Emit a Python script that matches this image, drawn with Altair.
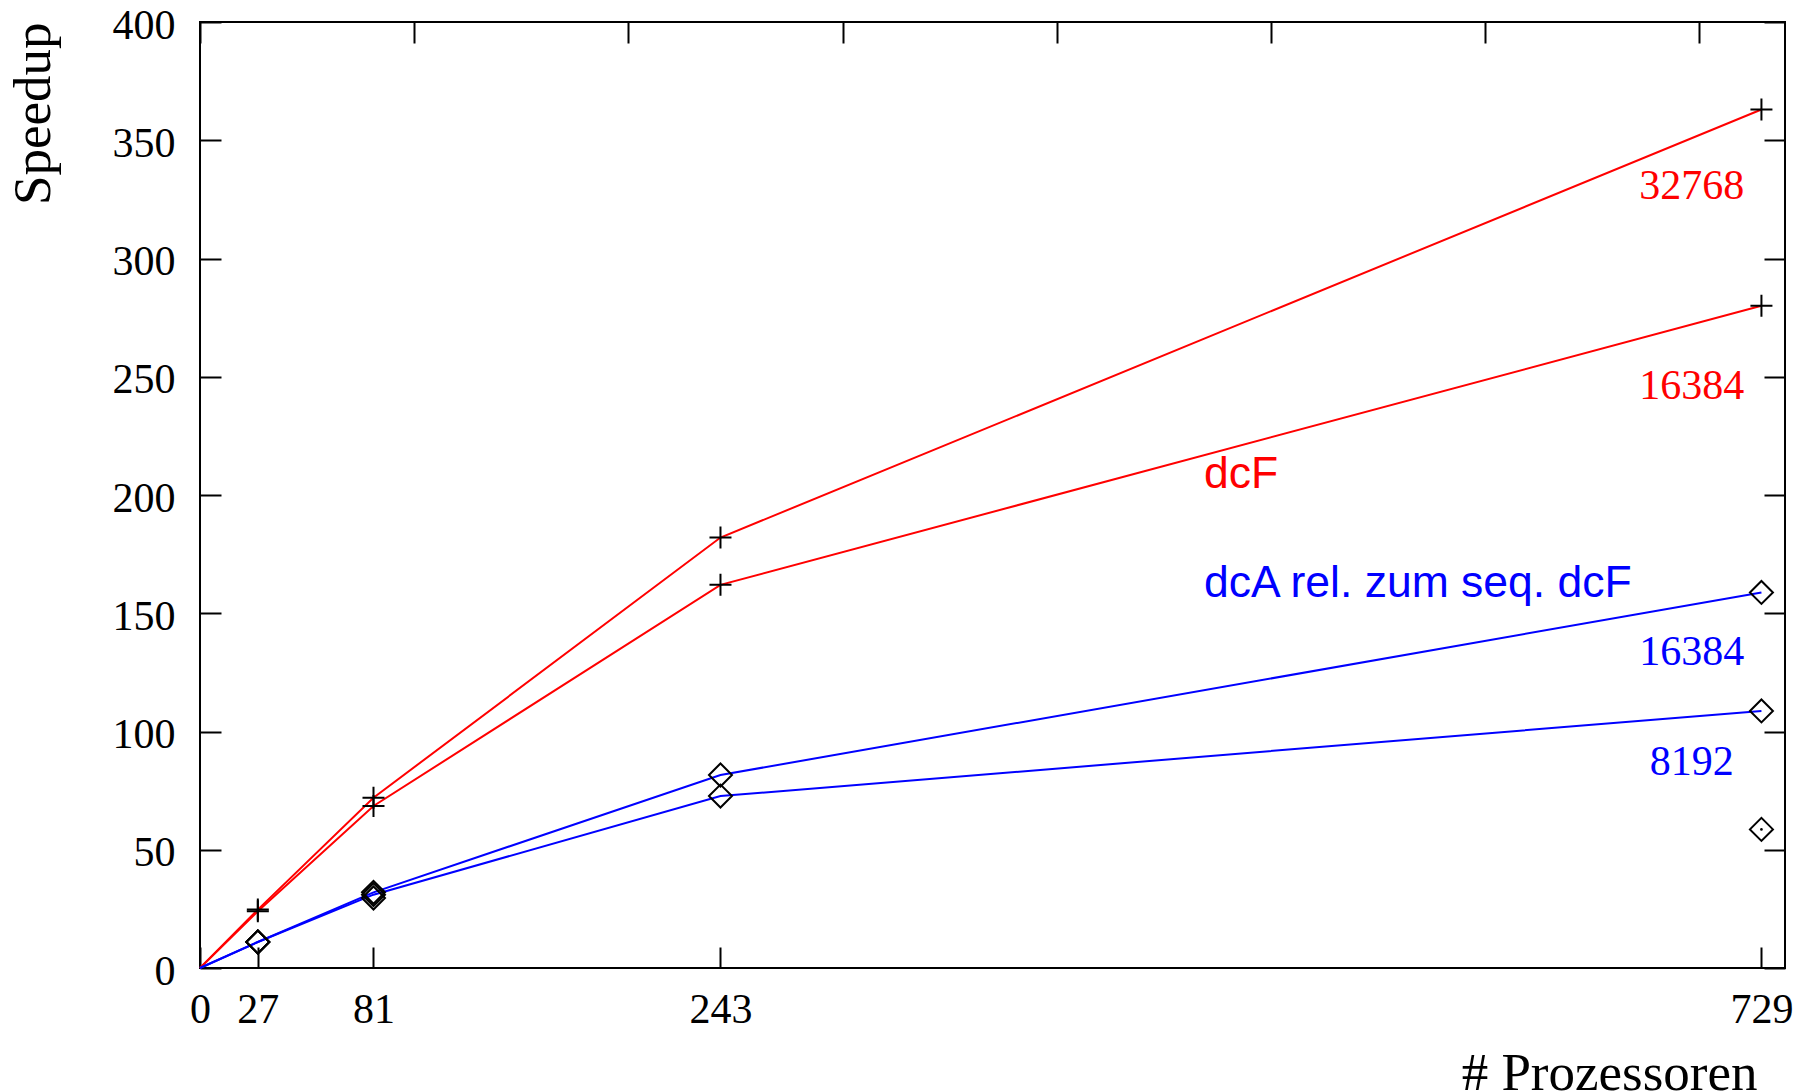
import altair as alt
import pandas as pd

# ---- data ----
procs = [0, 27, 81, 243, 729]
dcf_32768 = [0, 24.7, 72, 182, 363]
dcf_16384 = [0, 24, 68.5, 162, 280]
dca_16384 = [0, 11, 32, 81.6, 158.8]
dca_8192 = [0, 11, 31, 72.7, 108.7]
extra_x = [27, 81, 729]
extra_y = [11, 29.6, 58.6]
dot_x = [729]
dot_y = [58.6]

x_ticks_bottom = [0, 27, 81, 243, 729]
x_ticks_top = [0, 100, 200, 300, 400, 500, 600, 700]
y_ticks = [0, 50, 100, 150, 200, 250, 300, 350, 400]

num_labels = ["32768", "16384", "16384", "8192"]
num_x = [696.5, 696.5, 696.5, 696.5]
num_y = [325, 240.5, 128, 81.6]
num_color = ["red", "red", "blue", "blue"]

grp_labels = ["dcF", "dcA rel. zum seq. dcF"]
grp_x = [468.7, 468.7]
grp_y = [202.9, 156.9]
grp_color = ["red", "blue"]

# ---- tables ----
rows = []
for name, color, vals in [("dcF 32768", "red", dcf_32768), ("dcF 16384", "red", dcf_16384),
                          ("dcA 16384", "blue", dca_16384), ("dcA 8192", "blue", dca_8192)]:
    for p, v in zip(procs, vals):
        rows.append({"series": name, "color": color, "p": p, "s": v})
lines_df = pd.DataFrame(rows)

plus_df = lines_df[(lines_df.color == "red") & (lines_df.p > 0)]
diam_df = pd.concat([
    lines_df[(lines_df.color == "blue") & (lines_df.p > 0)][["p", "s"]],
    pd.DataFrame({"p": extra_x, "s": extra_y}),
])
dot_df = pd.DataFrame({"p": dot_x, "s": dot_y})
num_df = pd.DataFrame({"t": num_labels, "p": num_x, "s": num_y, "c": num_color})
grp_df = pd.DataFrame({"t": grp_labels, "p": grp_x, "s": grp_y, "c": grp_color})

XS = alt.Scale(domain=[0, 740], nice=False, zero=False)
YS = alt.Scale(domain=[0, 400], nice=False, zero=False)
SERIF = "Liberation Serif"
SANS = "Liberation Sans"

common_axis = dict(domain=False, grid=False, tickColor="black", tickWidth=2,
                   tickSize=21, offset=-21, labelColor="black")

x_bottom = alt.Axis(orient="bottom", values=x_ticks_bottom, labelFont=SERIF, labelFontSize=42,
                    labelPadding=21, labelBaseline="top", labelFlush=False, labelOverlap=False,
                    title="# Prozessoren", titleFont=SERIF, titleFontSize=53,
                    titleFontWeight="normal", titleColor="black", titleAlign="right",
                    titleBaseline="alphabetic", titleAngle=0, titleX=1557, titleY=142,
                    **common_axis)
y_left = alt.Axis(orient="left", values=y_ticks, labelFont=SERIF, labelFontSize=42,
                  labelPadding=25, labelBaseline="middle", labelOffset=3,
                  labelFlush=False, labelOverlap=False,
                  title="Speedup", titleFont=SERIF, titleFontSize=53, titleFontWeight="normal",
                  titleColor="black", titleAngle=270, titleAlign="right",
                  titleBaseline="alphabetic", titleX=-172, titleY=0, **common_axis)
x_top = alt.Axis(orient="top", values=x_ticks_top, labels=False, title=None, **common_axis)
y_right = alt.Axis(orient="right", values=y_ticks, labels=False, title=None, **common_axis)

lines = alt.Chart(lines_df).mark_line(strokeWidth=2).encode(
    x=alt.X("p:Q", scale=XS, axis=x_bottom),
    y=alt.Y("s:Q", scale=YS, axis=y_left),
    color=alt.Color("color:N", scale=None),
    detail="series:N",
)

pluses = alt.Chart(plus_df).mark_point(
    shape="M-1,0L1,0M0,-1L0,1", size=484, filled=False, stroke="black", strokeWidth=2, opacity=1
).encode(
    x=alt.X("p:Q", scale=XS, axis=x_top),
    y=alt.Y("s:Q", scale=YS, axis=y_right),
)

diamonds = alt.Chart(diam_df).mark_point(
    shape="diamond", size=529, filled=False, stroke="black", strokeWidth=2, opacity=1
).encode(
    x=alt.X("p:Q", scale=XS, axis=None),
    y=alt.Y("s:Q", scale=YS, axis=None),
)

dots = alt.Chart(dot_df).mark_circle(size=7, color="black", opacity=1).encode(
    x=alt.X("p:Q", scale=XS, axis=None),
    y=alt.Y("s:Q", scale=YS, axis=None),
)

nums = alt.Chart(num_df).mark_text(font=SERIF, fontSize=42, align="center", baseline="alphabetic").encode(
    x=alt.X("p:Q", scale=XS, axis=None),
    y=alt.Y("s:Q", scale=YS, axis=None),
    text="t:N",
    color=alt.Color("c:N", scale=None),
)

grps = alt.Chart(grp_df).mark_text(font=SANS, fontSize=44.5, align="left", baseline="alphabetic").encode(
    x=alt.X("p:Q", scale=XS, axis=None),
    y=alt.Y("s:Q", scale=YS, axis=None),
    text="t:N",
    color=alt.Color("c:N", scale=None),
)

chart = alt.layer(lines, pluses, diamonds, dots, nums, grps).resolve_axis(
    x="independent", y="independent"
).properties(
    width=1585, height=946,
    autosize=alt.AutoSizeParams(type="none"),
    padding={"left": 192, "top": 14, "right": 8, "bottom": 124},
    background="white",
).configure_view(stroke="black", strokeWidth=2)

chart.save("out.html", embed_options={"renderer": "svg", "actions": False})
